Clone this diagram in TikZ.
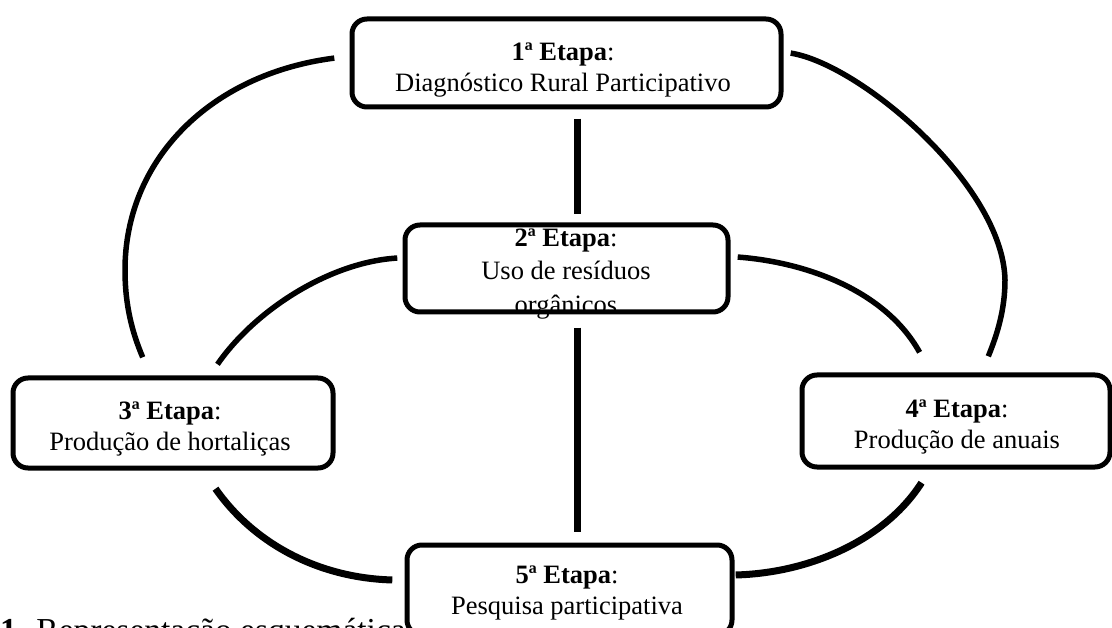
\documentclass[tikz,border=0pt]{standalone}
\usepackage{fontspec}
\setmainfont{Liberation Serif}
\pgfdeclarelayer{edgelayer}
\pgfdeclarelayer{nodelayer}
\pgfsetlayers{edgelayer,nodelayer,main}
\tikzstyle{none}=[inner sep=0pt]
\tikzstyle{stage}=[rectangle, rounded corners=15pt, fill=white, draw=black, line width=5pt, inner sep=0pt]
\tikzstyle{stagetext}=[align=center, inner sep=0pt, font=\fontsize{26.5}{31.5}\selectfont]
\tikzstyle{arc}=[draw=black, line width=5.5pt]
\tikzstyle{link}=[draw=black, line width=7pt]

\begin{document}
\begin{tikzpicture}[x=1pt, y=-1pt]
				\useasboundingbox (0, 0) rectangle (1112, 628);
				\begin{pgfonlayer}{nodelayer}
					\node [style=stage, minimum width=429, minimum height=88] (0) at (566.5, 63) {};
					\node [style=stage, minimum width=323, minimum height=87] (1) at (566.5, 268.5) {};
					\node [style=stage, minimum width=320, minimum height=90] (2) at (173, 423) {};
					\node [style=stage, minimum width=308, minimum height=92] (3) at (956, 421) {};
					\node [style=stage, minimum width=325, minimum height=90] (4) at (569.5, 590) {};
					\node [style=stagetext] (5) at (563, 70) {\textbf{1ª Etapa}:\\Diagnóstico Rural Participativo};
					\node [style=stagetext, font=\fontsize{26.5}{33.5}\selectfont] (6) at (566, 274) {\textbf{2ª Etapa}:\\Uso de resíduos\\orgânicos};
					\node [style=stagetext] (7) at (170, 429) {\textbf{3ª Etapa}:\\Produção de hortaliças};
					\node [style=stagetext] (8) at (957, 427) {\textbf{4ª Etapa}:\\Produção de anuais};
					\node [style=stagetext] (9) at (567, 593) {\textbf{5ª Etapa}:\\Pesquisa participativa};
				\end{pgfonlayer}
				\begin{pgfonlayer}{edgelayer}
					\node [style=none] (10) at (335, 58) {};
					\node [style=none] (11) at (143, 358) {};
					\node [style=none] (12) at (790, 53) {};
					\node [style=none] (13) at (988, 357) {};
					\node [style=none] (14) at (398, 258) {};
					\node [style=none] (15) at (217, 365) {};
					\node [style=none] (16) at (737, 257) {};
					\node [style=none] (17) at (920, 353) {};
					\node [style=none] (18) at (215, 488) {};
					\node [style=none] (19) at (393, 580) {};
					\node [style=none] (20) at (922, 482) {};
					\node [style=none] (21) at (735, 575) {};
					\node [style=none] (22) at (577, 118) {};
					\node [style=none] (23) at (577, 215) {};
					\node [style=none] (24) at (577, 327) {};
					\node [style=none] (25) at (577, 533) {};
					\node [anchor=base west, inner sep=0pt, font=\fontsize{33.5}{40}\selectfont] (26) at (0, 641) {\textbf{1.} Representação esquemática};
					\draw [style=arc] (10) .. controls (210, 74) and (125, 160) .. (125, 270) .. controls (125, 305) and (132, 332) .. (11);
					\draw [style=arc] (12) .. controls (860, 64) and (1003, 185) .. (1005, 280) .. controls (1005, 310) and (997, 335) .. (13);
					\draw [style=arc] (14) .. controls (330, 262) and (255, 310) .. (15);
					\draw [style=arc] (16) .. controls (805, 262) and (885, 290) .. (17);
					\draw [style=link] (18) .. controls (255, 545) and (320, 578) .. (19);
					\draw [style=link] (20) .. controls (885, 540) and (810, 573) .. (21);
					\draw [style=link] (22) to (23);
					\draw [style=link] (24) to (25);
				\end{pgfonlayer}
\end{tikzpicture}
\end{document}
